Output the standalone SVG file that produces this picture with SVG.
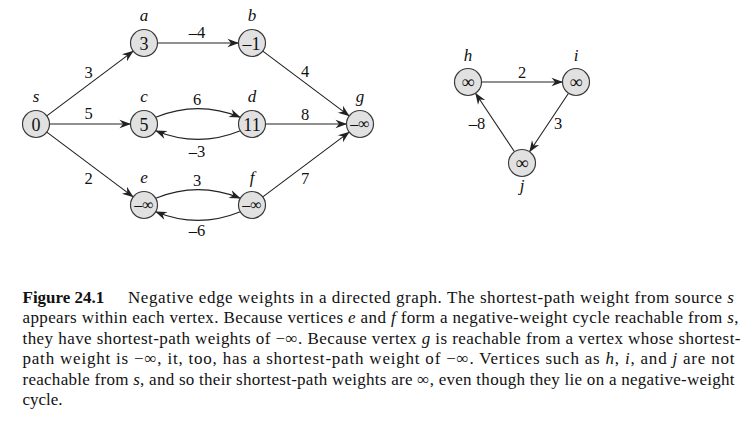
<svg xmlns="http://www.w3.org/2000/svg" width="755" height="428" viewBox="0 0 755 428">
<defs>
<marker id="arr" markerUnits="userSpaceOnUse" viewBox="-12 -6 13 12" refX="0" refY="0" markerWidth="13" markerHeight="12" orient="auto">
<path d="M0.5,0 L-11,-4.3 L-7.5,0 L-11,4.3 Z" fill="#222"/>
</marker>
</defs>
<style>
.e{fill:none;stroke:#222;stroke-width:1.1;marker-end:url(#arr)}
.n{fill:#e1e1e1;stroke:#3a3a3a;stroke-width:1.2}
.v{font-family:"Liberation Serif","Times New Roman",serif;font-size:18px;fill:#111;text-anchor:middle}
.inf{font-family:"Liberation Serif","Times New Roman",serif;font-size:16px;fill:#111;text-anchor:middle}
.inf1{font-family:"Liberation Serif","Times New Roman",serif;font-size:18px;fill:#111;text-anchor:middle}
.lab{font-family:"Liberation Serif","Times New Roman",serif;font-size:17px;font-style:italic;fill:#111;text-anchor:middle}
.w{font-family:"Liberation Serif","Times New Roman",serif;font-size:16.5px;fill:#111;text-anchor:middle}
.cap{font-family:"Liberation Serif","Times New Roman",serif;font-size:17px;fill:#111}
.it{font-style:italic}
</style>
<rect width="755" height="428" fill="#fff"/>
<g id="connectors">
<path class="e" d="M46.8,115.9 L133.2,51.1"/>
<path class="e" d="M49.5,124 L130.5,124"/>
<path class="e" d="M46.8,132.1 L133.2,196.9"/>
<path class="e" d="M157.5,43 L238.5,43"/>
<path class="e" d="M262.8,51.1 L349.2,115.9"/>
<path class="e" d="M265.5,124 L346.5,124"/>
<path class="e" d="M262.8,196.9 L349.2,132.1"/>
<path class="e" d="M155.7,117.3 Q198,100 240.3,117.3"/>
<path class="e" d="M240.3,130.7 Q198,148 155.7,130.7"/>
<path class="e" d="M155.7,198.3 Q198,181 240.3,198.3"/>
<path class="e" d="M240.3,211.7 Q198,229 155.7,211.7"/>
<path class="e" d="M481.5,82 L562.5,82"/>
<path class="e" d="M568.5,93.2 L529.5,151.8"/>
<path class="e" d="M514.5,151.8 L475.5,93.2"/>
<text class="w" x="88.5" y="77.5">3</text>
<text class="w" x="88.5" y="119">5</text>
<text class="w" x="88.5" y="184">2</text>
<text class="w" x="197" y="37.5">–4</text>
<text class="w" x="305" y="77">4</text>
<text class="w" x="197" y="105">6</text>
<text class="w" x="305" y="120">8</text>
<text class="w" x="197" y="157">–3</text>
<text class="w" x="197" y="186">3</text>
<text class="w" x="305" y="184">7</text>
<text class="w" x="197" y="236">–6</text>
<text class="w" x="522" y="78">2</text>
<text class="w" x="477" y="129">–8</text>
<text class="w" x="558" y="129">3</text>
</g>
<g id="node-s"><circle class="n" cx="36" cy="124" r="13.5"/><text class="v" x="36" y="130.5">0</text><text class="lab" x="36" y="102">s</text></g>
<g id="node-a"><circle class="n" cx="144" cy="43" r="13.5"/><text class="v" x="144" y="49.5">3</text><text class="lab" x="144" y="21">a</text></g>
<g id="node-b"><circle class="n" cx="252" cy="43" r="13.5"/><text class="v" x="251.5" y="49.5">–1</text><text class="lab" x="252" y="21">b</text></g>
<g id="node-c"><circle class="n" cx="144" cy="124" r="13.5"/><text class="v" x="144" y="130.5">5</text><text class="lab" x="144" y="102">c</text></g>
<g id="node-d"><circle class="n" cx="252" cy="124" r="13.5"/><text class="v" x="252" y="130.5">11</text><text class="lab" x="252" y="102">d</text></g>
<g id="node-g"><circle class="n" cx="360" cy="124" r="13.5"/><text class="inf" x="360" y="129">–∞</text><text class="lab" x="360" y="102">g</text></g>
<g id="node-e"><circle class="n" cx="144" cy="205" r="13.5"/><text class="inf" x="144" y="210">–∞</text><text class="lab" x="144" y="183">e</text></g>
<g id="node-f"><circle class="n" cx="252" cy="205" r="13.5"/><text class="inf" x="252" y="210">–∞</text><text class="lab" x="252" y="183">f</text></g>
<g id="node-h"><circle class="n" cx="468" cy="82" r="13.5"/><text class="inf1" x="468" y="87.5">∞</text><text class="lab" x="468" y="61">h</text></g>
<g id="node-i"><circle class="n" cx="576" cy="82" r="13.5"/><text class="inf1" x="576" y="87.5">∞</text><text class="lab" x="576" y="61">i</text></g>
<g id="node-j"><circle class="n" cx="522" cy="163" r="13.5"/><text class="inf1" x="522" y="168.5">∞</text><text class="lab" x="522" y="191">j</text></g>
<g id="caption">
<text class="cap" x="22.5" y="302.5" font-weight="bold">Figure 24.1</text>
<text class="cap" x="128" y="302.5" textLength="606" lengthAdjust="spacing">Negative edge weights in a directed graph. The shortest-path weight from source <tspan class="it">s</tspan></text>
<text class="cap" x="22.5" y="323" textLength="716" lengthAdjust="spacing">appears within each vertex. Because vertices <tspan class="it">e</tspan> and <tspan class="it">f</tspan> form a negative-weight cycle reachable from <tspan class="it">s</tspan>,</text>
<text class="cap" x="22.5" y="343.5" textLength="718" lengthAdjust="spacing">they have shortest-path weights of −∞. Because vertex <tspan class="it">g</tspan> is reachable from a vertex whose shortest-</text>
<text class="cap" x="22.5" y="364" textLength="712" lengthAdjust="spacing">path weight is −∞, it, too, has a shortest-path weight of −∞. Vertices such as <tspan class="it">h</tspan>, <tspan class="it">i</tspan>, and <tspan class="it">j</tspan> are not</text>
<text class="cap" x="22.5" y="384.5" textLength="712" lengthAdjust="spacing">reachable from <tspan class="it">s</tspan>, and so their shortest-path weights are ∞, even though they lie on a negative-weight</text>
<text class="cap" x="22.5" y="405">cycle.</text>
</g>
</svg>
